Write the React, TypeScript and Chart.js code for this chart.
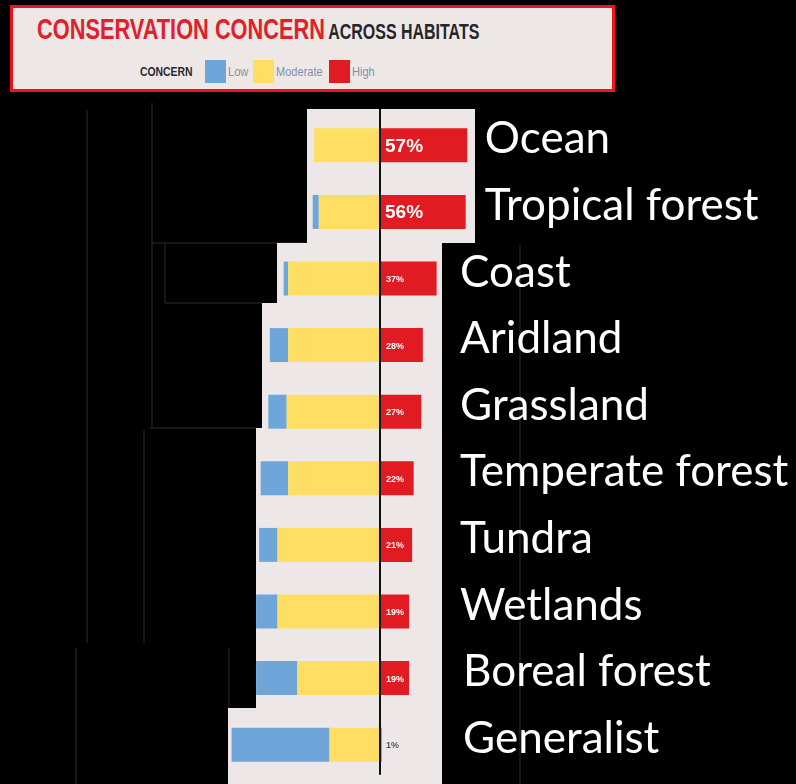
import React, { useEffect, useRef } from "react";
import { Chart, registerables } from "chart.js";

Chart.register(...registerables);

// ---- data ----
const habitats = [
  "Ocean",
  "Tropical forest",
  "Coast",
  "Aridland",
  "Grassland",
  "Temperate forest",
  "Tundra",
  "Wetlands",
  "Boreal forest",
  "Generalist",
];
const lowConcern = [0, 4, 3, 12, 12, 18, 12, 14, 27, 64];
const moderateConcern = [43, 40, 60, 60, 61, 60, 67, 67, 54, 33];
const highConcern = [57, 56, 37, 28, 27, 22, 21, 19, 19, 1];
const legendLabels = ["Low", "Moderate", "High"];

const BLUE = "#6ea6da";
const YELLOW = "#fedf63";
const RED = "#e11b22";
const PANEL = "#ede8e7";

const panelPlugin = {
  id: "panel",
  beforeDatasetsDraw(chart: any) {
    const { ctx } = chart;
    const x = chart.scales.x;
    const y = chart.scales.y;
    const step = y.getPixelForValue(1) - y.getPixelForValue(0);
    const ry = (r: number) => Math.round(y.getPixelForValue(0) + r * step);
    const sections = [
      [-0.55, 1.47, -48, 62],
      [1.47, 2.37, -67.5, 40.6],
      [2.37, 4.25, -77, 40.6],
      [4.25, 8.45, -81, 40.6],
      [8.45, 9.8, -99.5, 40.6],
    ];
    ctx.save();
    // faint decorative guide lines on the black background
    ctx.strokeStyle = "#1f1f1f";
    ctx.lineWidth = 1.5;
    const lines = [
      [87, 110, 87, 643],
      [152, 103, 152, 428],
      [152, 243, 307, 243],
      [165, 243, 165, 303],
      [165, 303, 262, 303],
      [150, 428, 256, 428],
      [144, 430, 144, 643],
      [76, 648, 76, 784],
      [229, 648, 229, 708],
      [520, 245, 520, 784],
    ];
    for (const [x0, y0, x1, y1] of lines) {
      ctx.beginPath();
      ctx.moveTo(x0, y0);
      ctx.lineTo(x1, y1);
      ctx.stroke();
    }
    ctx.fillStyle = PANEL;
    for (const [r0, r1, v0, v1] of sections) {
      const px0 = Math.round(x.getPixelForValue(v0));
      const px1 = Math.round(x.getPixelForValue(v1));
      ctx.fillRect(px0, ry(r0), px1 - px0, ry(r1) - ry(r0));
    }
    ctx.restore();
  },
  afterDatasetsDraw(chart: any) {
    const { ctx } = chart;
    const x = chart.scales.x;
    const y = chart.scales.y;
    const step = y.getPixelForValue(1) - y.getPixelForValue(0);
    const ry = (r: number) => y.getPixelForValue(0) + r * step;
    const cx = x.getPixelForValue(0);
    ctx.save();
    // centre line
    ctx.strokeStyle = "#111";
    ctx.lineWidth = 2;
    ctx.beginPath();
    ctx.moveTo(cx, ry(-0.55));
    ctx.lineTo(cx, ry(9.45));
    ctx.stroke();

    // percentage labels for high concern
    const meta = chart.getDatasetMeta(2);
    meta.data.forEach((bar: any, i: number) => {
      const v = highConcern[i];
      const big = v >= 50;
      ctx.font = `bold ${big ? 19 : 9}px "Liberation Sans", Arial, sans-serif`;
      ctx.fillStyle = v >= 5 ? "#ffffff" : "#555555";
      ctx.textAlign = "left";
      ctx.textBaseline = "middle";
      ctx.fillText(`${v}%`, bar.base + (big ? 5 : 6), bar.y + 1);
    });

    // habitat labels on the right
    ctx.font = '44px Lato, "Open Sans", sans-serif';
    ctx.fillStyle = "#ffffff";
    ctx.textAlign = "left";
    ctx.textBaseline = "alphabetic";
    habitats.forEach((name, i) => {
      let lx: number;
      if (i < 2) lx = x.getPixelForValue(62) + 10;
      else if (i < 8) lx = x.getPixelForValue(40.6) + 18;
      else lx = x.getPixelForValue(40.6) + 21;
      ctx.fillText(name, lx, y.getPixelForValue(i) + 8);
    });
    ctx.restore();
  },
};

export default function App() {
  const ref = useRef<HTMLCanvasElement>(null);

  useEffect(() => {
    if (!ref.current) return;
    const chart = new Chart(ref.current, {
      type: "bar",
      data: {
        labels: habitats,
        datasets: [
          {
            label: legendLabels[1],
            data: moderateConcern.map((v) => -v),
            backgroundColor: YELLOW,
            barPercentage: 0.51,
            categoryPercentage: 1,
          },
          {
            label: legendLabels[0],
            data: lowConcern.map((v) => -v),
            backgroundColor: BLUE,
            barPercentage: 0.51,
            categoryPercentage: 1,
          },
          {
            label: legendLabels[2],
            data: highConcern,
            backgroundColor: RED,
            barPercentage: 0.51,
            categoryPercentage: 1,
          },
        ],
      },
      options: {
        indexAxis: "y",
        responsive: false,
        animation: false,
        layout: { padding: { left: 227, right: 263, top: 112, bottom: 6 } },
        plugins: {
          legend: { display: false },
          tooltip: { enabled: false },
          title: { display: false },
        },
        scales: {
          x: { stacked: true, min: -100, max: 100, display: false },
          y: { stacked: true, display: false },
        },
      },
      plugins: [panelPlugin],
    });
    return () => chart.destroy();
  }, []);

  const sans = '"Liberation Sans", Arial, sans-serif';
  const swatch = (left: number, color: string) => (
    <div
      style={{
        position: "absolute",
        left,
        top: 52,
        width: 21,
        height: 23,
        background: color,
      }}
    />
  );
  const legText = (left: number, text: string) => (
    <span
      style={{
        position: "absolute",
        left,
        top: 56,
        fontFamily: sans,
        fontSize: 13,
        color: "#8390ac",
        lineHeight: "15px",
        whiteSpace: "nowrap",
        transform: "scaleX(0.85)",
        transformOrigin: "left center",
      }}
    >
      {text}
    </span>
  );

  return (
    <div style={{ position: "fixed", left: 0, top: 0, width: 796, height: 784, background: "#000", overflow: "hidden" }}>
      <canvas ref={ref} width={796} height={784} style={{ position: "absolute", left: 0, top: 0, width: 796, height: 784 }} />
      <div
        style={{
          position: "absolute",
          left: 10,
          top: 5,
          width: 599,
          height: 81,
          border: "3px solid #f2121a",
          background: "#ede8e6",
        }}
      >
        <div
          style={{
            position: "absolute",
            left: 24,
            top: 4,
            whiteSpace: "nowrap",
            fontFamily: sans,
            fontWeight: "bold",
            lineHeight: "34px",
            transform: "scaleX(0.726)",
            transformOrigin: "left center",
          }}
        >
          <span style={{ color: "#e0202a", fontSize: 30 }}>CONSERVATION CONCERN</span>{" "}
          <span style={{ color: "#25252b", fontSize: 22 }}>ACROSS HABITATS</span>
        </div>
        <span
          style={{
            position: "absolute",
            left: 127,
            top: 56,
            fontFamily: sans,
            fontWeight: "bold",
            fontSize: 13,
            color: "#2a2a30",
            lineHeight: "15px",
            whiteSpace: "nowrap",
            transform: "scaleX(0.8)",
            transformOrigin: "left center",
          }}
        >
          CONCERN
        </span>
        {swatch(192, BLUE)}
        {legText(215, legendLabels[0])}
        {swatch(240, YELLOW)}
        {legText(263, legendLabels[1])}
        {swatch(316, RED)}
        {legText(339, legendLabels[2])}
      </div>
    </div>
  );
}
